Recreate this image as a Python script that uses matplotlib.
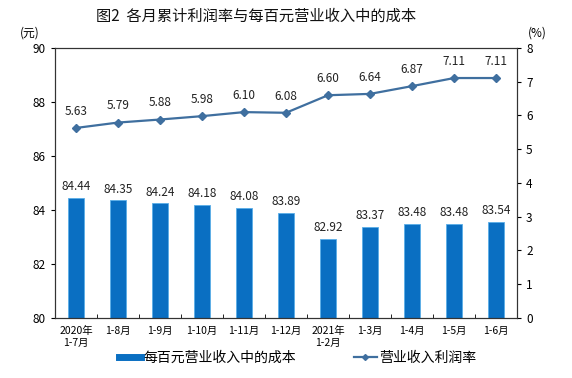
import matplotlib
matplotlib.use('Agg')
import matplotlib.pyplot as plt
from matplotlib.lines import Line2D

plt.rcParams['font.family'] = ['Noto Sans CJK SC', 'DejaVu Sans']

# data
months = ['2020年\n1-7月', '1-8月', '1-9月', '1-10月', '1-11月', '1-12月',
          '2021年\n1-2月', '1-3月', '1-4月', '1-5月', '1-6月']
cost = [84.44, 84.35, 84.24, 84.18, 84.08, 83.89, 82.92, 83.37, 83.48, 83.48, 83.54]
margin = [5.63, 5.79, 5.88, 5.98, 6.10, 6.08, 6.60, 6.64, 6.87, 7.11, 7.11]

bar_color = '#0a6fc2'
line_color = '#3f6f9f'

fig = plt.figure(figsize=(5.72, 3.78), dpi=100)
ax = fig.add_axes([0.096, 0.159, 0.808, 0.714])
x = list(range(len(months)))

ax.bar(x, cost, width=0.4, color=bar_color, edgecolor='#5aaee8', linewidth=0.6, zorder=2)
for i, v in enumerate(cost):
    ax.text(i, v + 0.18, f'{v:.2f}', ha='center', va='bottom', fontsize=8.5, color='#222222')

ax.set_ylim(80, 90)
ax.set_yticks(range(80, 91, 2))
ax.set_xlim(-0.5, len(months) - 0.5)
ax.set_xticks(x)
ax.set_xticklabels(months, fontsize=7.5)
ax.set_xticks([i + 0.5 for i in x[:-1]], minor=True)
ax.tick_params(axis='x', which='major', length=0, pad=6)
ax.tick_params(axis='x', which='minor', length=3, direction='in')
ax.tick_params(axis='y', labelsize=8.5, length=3, direction='out')

ax2 = ax.twinx()
ax2.plot(x, margin, color=line_color, marker='D', markersize=4, linewidth=1.6, zorder=3)
for i, v in enumerate(margin):
    ax2.text(i, v + 0.3, f'{v:.2f}', ha='center', va='bottom', fontsize=8.5, color='#222222')
ax2.set_ylim(0, 8)
ax2.set_yticks(range(0, 9))
ax2.tick_params(axis='y', labelsize=8.5, length=3, direction='out')

for a in (ax, ax2):
    for s in a.spines.values():
        s.set_color('#333333')
        s.set_linewidth(0.8)

fig.text(0.447, 0.957, '图2  各月累计利润率与每百元营业收入中的成本', ha='center', va='center',
         fontsize=11, color='#111111')
fig.text(0.052, 0.912, '(元)', ha='center', va='center', fontsize=8.5)
fig.text(0.94, 0.912, '(%)', ha='center', va='center', fontsize=8.5)

handles = [Line2D([0], [0], color=bar_color, linewidth=5),
           Line2D([0], [0], color=line_color, marker='D', markersize=3, linewidth=1.6)]
fig.legend(handles, ['每百元营业收入中的成本', '营业收入利润率'], loc='center',
           bbox_to_anchor=(0.52, 0.053), ncol=2, frameon=False, fontsize=10,
           columnspacing=4.2, handlelength=1.6, handletextpad=0.15)

fig.savefig('out.png', dpi=100)
